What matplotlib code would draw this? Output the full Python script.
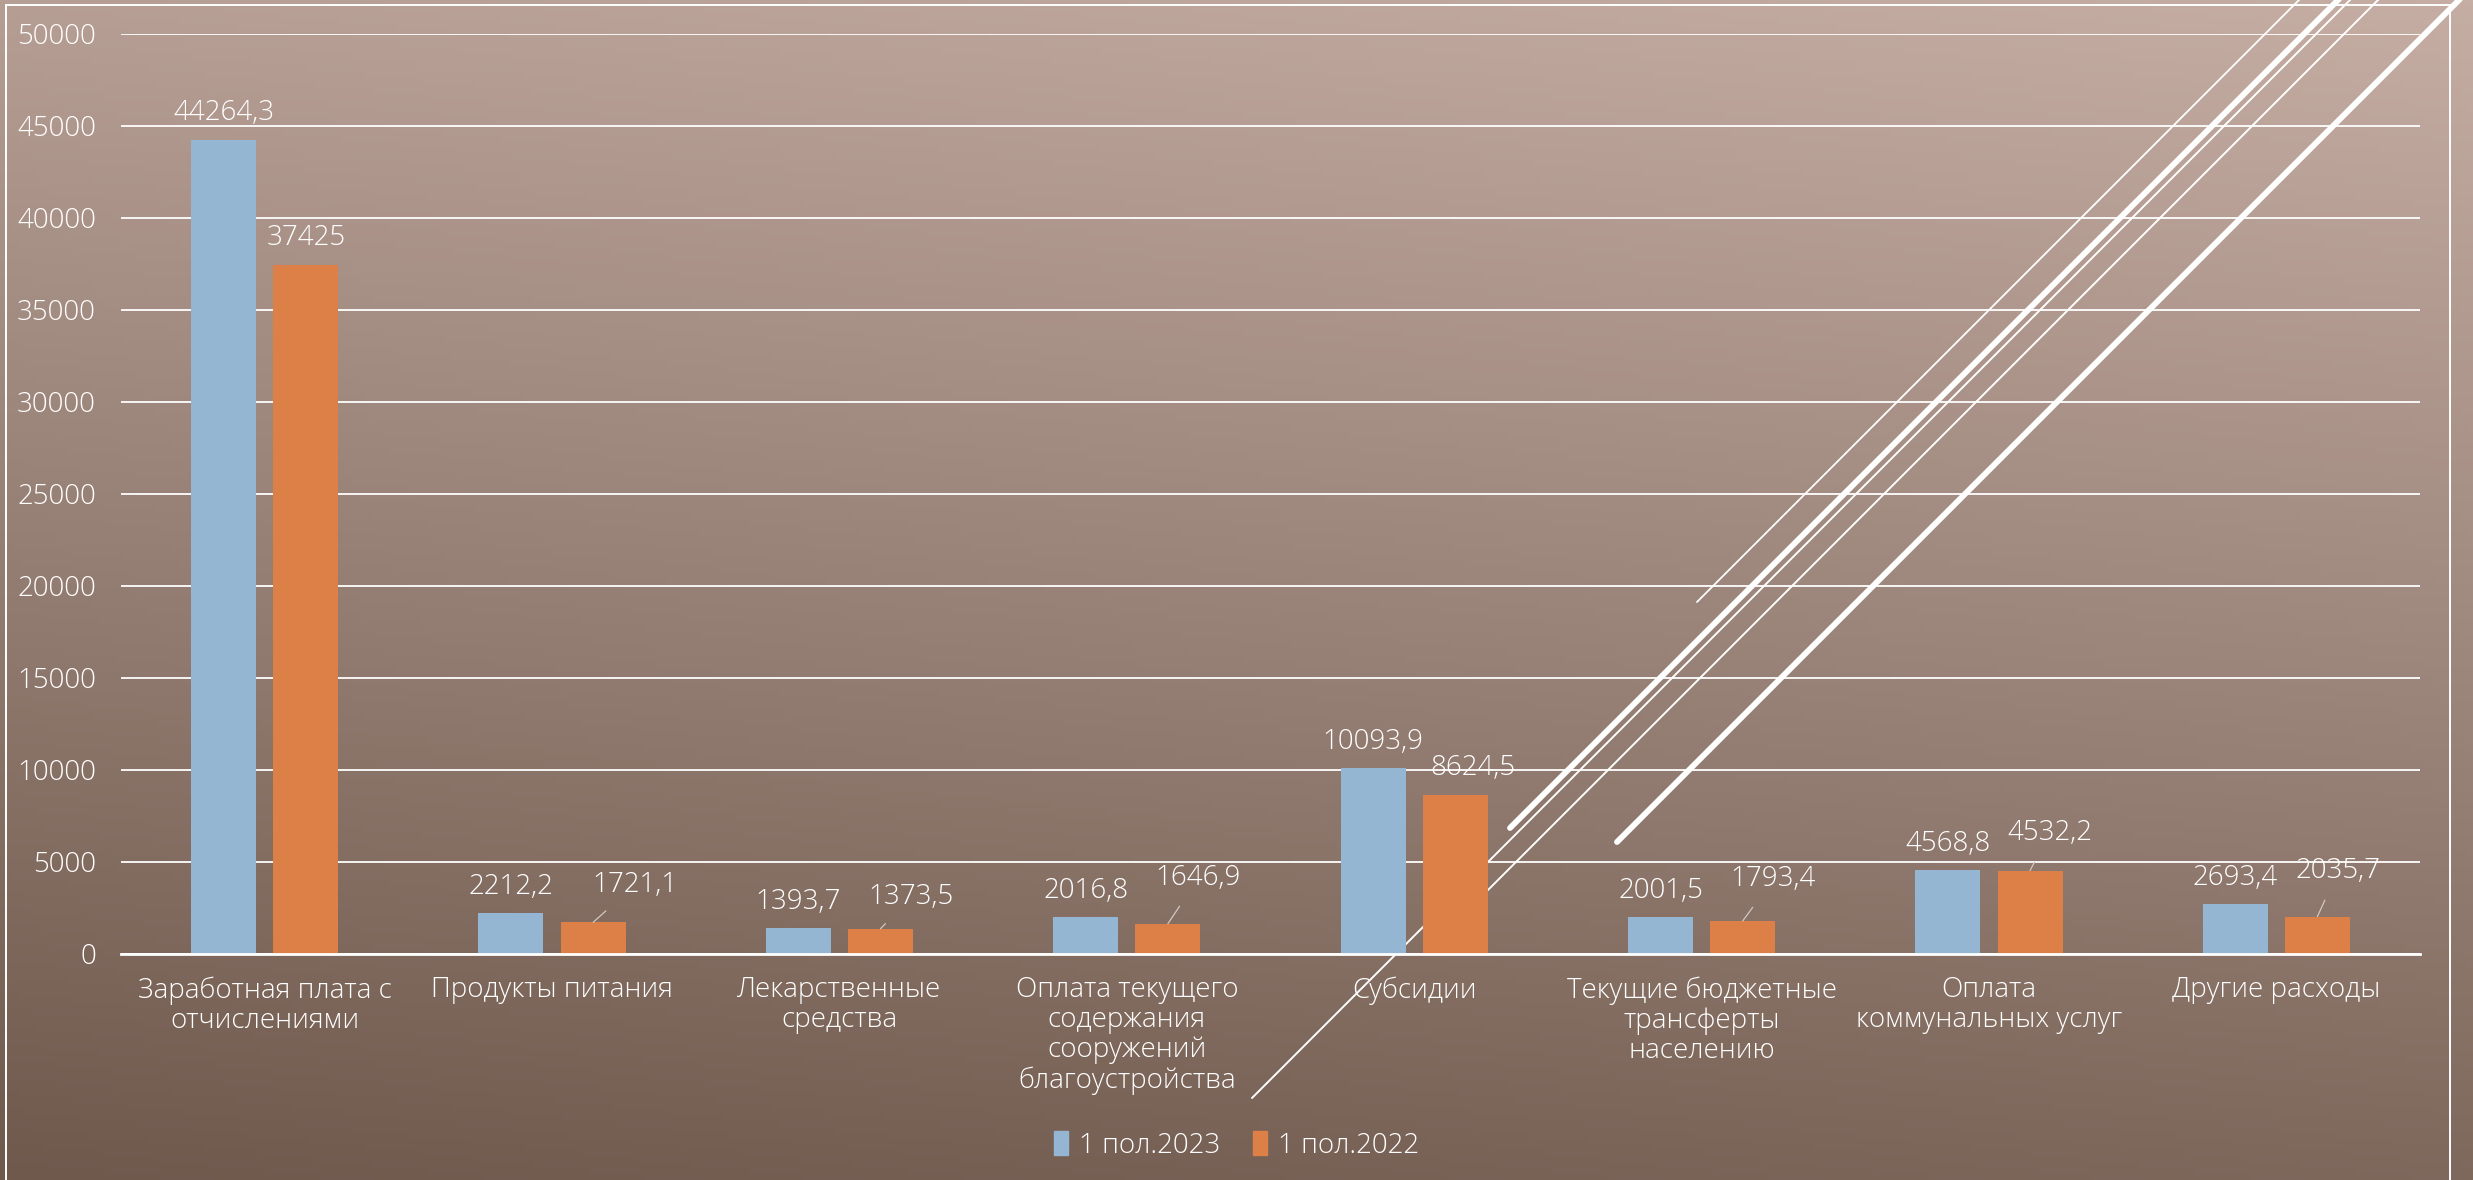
import numpy as np
import matplotlib
matplotlib.use("Agg")
import matplotlib.pyplot as plt
from matplotlib.colors import LinearSegmentedColormap
from matplotlib.patches import Patch

# данные диаграммы
categories = [
    "Заработная плата с\nотчислениями",
    "Продукты питания",
    "Лекарственные\nсредства",
    "Оплата текущего\nсодержания\nсооружений\nблагоустройства",
    "Субсидии",
    "Текущие бюджетные\nтрансферты\nнаселению",
    "Оплата\nкоммунальных услуг",
    "Другие расходы",
]
series_names = ["1 пол.2023", "1 пол.2022"]
values_2023 = [44264.3, 2212.2, 1393.7, 2016.8, 10093.9, 2001.5, 4568.8, 2693.4]
values_2022 = [37425, 1721.1, 1373.5, 1646.9, 8624.5, 1793.4, 4532.2, 2035.7]
labels_2023 = ["44264,3", "2212,2", "1393,7", "2016,8", "10093,9", "2001,5", "4568,8", "2693,4"]
labels_2022 = ["37425", "1721,1", "1373,5", "1646,9", "8624,5", "1793,4", "4532,2", "2035,7"]
yticks = [0, 5000, 10000, 15000, 20000, 25000, 30000, 35000, 40000, 45000, 50000]

# сдвиги подписей оранжевых столбцов (в точках) и наличие выносок
label_shift_2022 = [(0, 20), (30, 27), (22, 23), (22, 33), (13, 20), (22, 30), (14, 27), (15, 33)]
leader_2022 = [False, True, True, True, False, True, True, True]

BLUE = "#94b6d3"
ORANGE = "#dc8047"
W, H = 2473, 1180
FS = 20

plt.rcParams["font.family"] = ["Open Sans", "DejaVu Sans"]
plt.rcParams["font.weight"] = 300

fig = plt.figure(figsize=(W / 100, H / 100), dpi=100)

# фон слайда с градиентом
bg = fig.add_axes([0, 0, 1, 1])
bg.set_xlim(0, W)
bg.set_ylim(H, 0)
bg.axis("off")
gx, gy = np.meshgrid(np.linspace(0, 1, 400), np.linspace(0, 1, 200))
grad = 0.82 * gy + 0.18 * (1 - gx)
cmap = LinearSegmentedColormap.from_list("bg", ["#c5ada3", "#6f594d"])
bg.imshow(grad, cmap=cmap, extent=[0, W, H, 0], aspect="auto", zorder=0)

# рамка и декоративные линии темы
bg.plot([6, 2450], [5, 5], color="white", lw=1.4, zorder=1)
bg.plot([6, 6], [5, H], color="white", lw=1.4, zorder=1)
bg.plot([2450, 2450], [5, H], color="white", lw=1.4, zorder=1)
deco = [
    (1697, 602, 2299, 1.3),
    (1510, 828, 2338, 4.2),
    (1252, 1098, 2350, 1.4),
    (1430, 948, 2378, 1.4),
    (1617, 842, 2459, 4.2),
]
for x0, y0, s, lw in deco:
    bg.plot([x0, s + 30], [y0, -30], color="white", lw=lw,
            solid_capstyle="round", zorder=1)

# сама диаграмма
ax = fig.add_axes([121 / W, 1 - 954 / H, (2420 - 121) / W, (954 - 34) / H])
ax.patch.set_alpha(0)
x = np.arange(len(categories))
bw = 0.226
off = 0.143
ax.bar(x - off, values_2023, bw, color=BLUE, zorder=3, label=series_names[0])
ax.bar(x + off, values_2022, bw, color=ORANGE, zorder=3, label=series_names[1])

ax.set_xlim(-0.5, len(categories) - 0.5)
ax.set_ylim(0, 50000)
ax.set_yticks(yticks)
ax.set_yticklabels([str(t) for t in yticks], color="white", fontsize=FS)
ax.set_xticks(x)
ax.set_xticklabels(categories, color="white", fontsize=FS, linespacing=1.1, va="top")
ax.tick_params(axis="both", length=0)
ax.tick_params(axis="x", pad=16)
ax.tick_params(axis="y", pad=18)
ax.grid(axis="y", color="white", lw=1.3, zorder=1)
for sp in ["left", "right", "top"]:
    ax.spines[sp].set_visible(False)
ax.spines["bottom"].set_color("white")
ax.spines["bottom"].set_linewidth(2)
ax.spines["bottom"].set_zorder(4)

for i in range(len(categories)):
    ax.annotate(labels_2023[i], (x[i] - off, values_2023[i]), xytext=(0, 19),
                textcoords="offset points", ha="center", va="center",
                color="white", fontsize=FS, zorder=5)
    dx, dy = label_shift_2022[i]
    arrow = None
    if leader_2022[i]:
        arrow = dict(arrowstyle="-", color="#d2c8c2", lw=0.9, shrinkA=10, shrinkB=0)
    ax.annotate(labels_2022[i], (x[i] + off, values_2022[i]), xytext=(dx, dy),
                textcoords="offset points", ha="center", va="center",
                color="white", fontsize=FS, arrowprops=arrow, zorder=5)

handles = [Patch(color=BLUE), Patch(color=ORANGE)]
leg = fig.legend(handles, series_names, loc="center", bbox_to_anchor=(0.5, 1 - 1145 / H),
                 ncol=2, frameon=False, fontsize=FS, handlelength=0.5, handleheight=1.0,
                 handletextpad=0.4, columnspacing=1.2)
for t in leg.get_texts():
    t.set_color("white")

fig.savefig("out.png", dpi=100)
